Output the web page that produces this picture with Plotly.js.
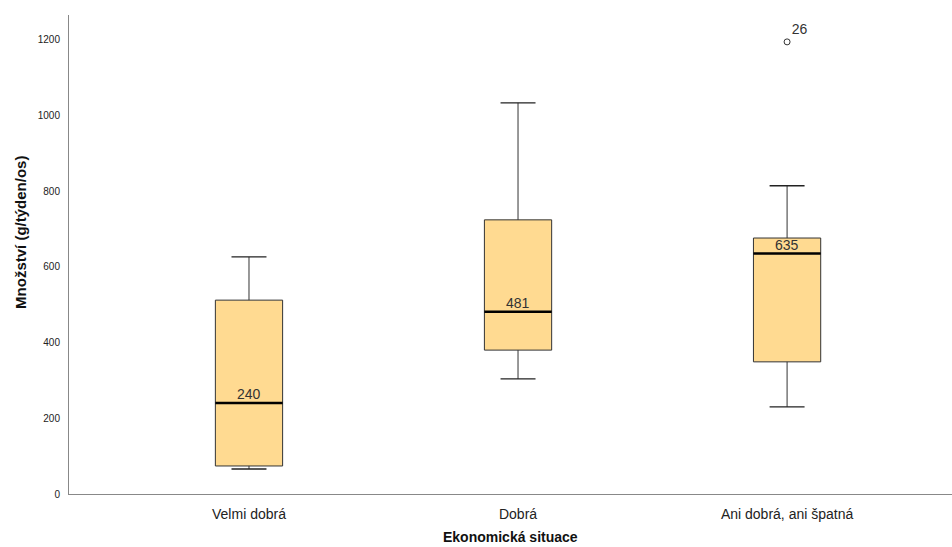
<!DOCTYPE html>
<html>
<head>
<meta charset="utf-8">
<script src="https://cdn.plot.ly/plotly-3.0.1.min.js"></script>
<style>html,body{margin:0;padding:0;background:#fff}#chart{width:952px;height:547px}</style>
</head>
<body>
<div id="chart"></div>
<script>
const categories = ["Velmi dobrá", "Dobrá", "Ani dobrá, ani špatná"];
const lowerWhisker = [66, 304, 230];
const q1 = [74, 380, 349];
const median = [240, 481, 635];
const q3 = [512, 724, 676];
const upperWhisker = [626, 1033, 814];
const outlierCat = [2];
const outlierVal = [1194];
const outlierLabel = ["26"];
const yTicks = [0, 200, 400, 600, 800, 1000, 1200];

const pos = categories.map((c, i) => i);
const boxW = 0.25;
const capW = 0.065;
const FONT = "Liberation Sans, Arial, sans-serif";

const traces = [];
traces.push({
  type: "box",
  x: pos,
  q1: q1, median: median, q3: q3,
  lowerfence: lowerWhisker, upperfence: upperWhisker,
  width: boxW,
  fillcolor: "#FFDA91",
  line: {color: "#333333", width: 1},
  whiskerwidth: 0,
  boxpoints: false,
  hoverinfo: "skip",
  showlegend: false
});
const mx = [], my = [];
pos.forEach((p, i) => { mx.push(p - boxW/2, p + boxW/2, null); my.push(median[i], median[i], null); });
traces.push({type: "scatter", mode: "lines", x: mx, y: my, line: {color: "#000", width: 2.5}, hoverinfo: "skip", showlegend: false});
const cx = [], cy = [];
pos.forEach((p, i) => {
  cx.push(p - capW, p + capW, null, p - capW, p + capW, null);
  cy.push(lowerWhisker[i], lowerWhisker[i], null, upperWhisker[i], upperWhisker[i], null);
});
traces.push({type: "scatter", mode: "lines", x: cx, y: cy, line: {color: "#222", width: 1.3}, hoverinfo: "skip", showlegend: false});
traces.push({type: "scatter", mode: "markers+text", x: outlierCat, y: outlierVal,
  marker: {symbol: "circle-open", size: 6, color: "#333", line: {width: 1}},
  text: outlierLabel, textposition: "top right", textfont: {family: FONT, size: 14, color: "#333"},
  hoverinfo: "skip", showlegend: false});

const annotations = pos.map((p, i) => ({
  x: p, y: median[i], text: String(median[i]), showarrow: false,
  yanchor: "bottom", yshift: -1,
  font: {family: FONT, size: 14, color: "#333"}
}));
annotations.push({
  xref: "paper", yref: "paper", x: 0.5, y: 0, yshift: -52, xanchor: "center", yanchor: "bottom",
  borderpad: 0,
  text: "<b>Ekonomická situace</b>", showarrow: false, font: {family: FONT, size: 14, color: "#111"}
});
annotations.push({
  xref: "paper", yref: "paper", x: 0, xshift: -48, y: 0.545, xanchor: "center", yanchor: "middle",
  textangle: -90, text: "<b>Množství (g/týden/os)</b>", showarrow: false, font: {family: FONT, size: 15, color: "#111"}
});

const layout = {
  width: 952, height: 547,
  margin: {l: 69, r: 0, t: 15, b: 53},
  paper_bgcolor: "#fff", plot_bgcolor: "#fff",
  showlegend: false,
  xaxis: {
    range: [-0.669, 2.613], tickvals: pos, ticktext: categories,
    showgrid: false, zeroline: false, showline: true, linecolor: "#888", linewidth: 1,
    ticks: "", ticklabelstandoff: 7, tickfont: {family: FONT, size: 14, color: "#222"}
  },
  yaxis: {
    range: [0, 1265], tickvals: yTicks,
    showgrid: false, zeroline: false, showline: true, linecolor: "#888", linewidth: 1,
    ticks: "", ticklabelstandoff: 6, tickfont: {family: FONT, size: 10, color: "#222"}
  },
  annotations: annotations
};
Plotly.newPlot("chart", traces, layout, {displayModeBar: false, staticPlot: true});
</script>
</body>
</html>
